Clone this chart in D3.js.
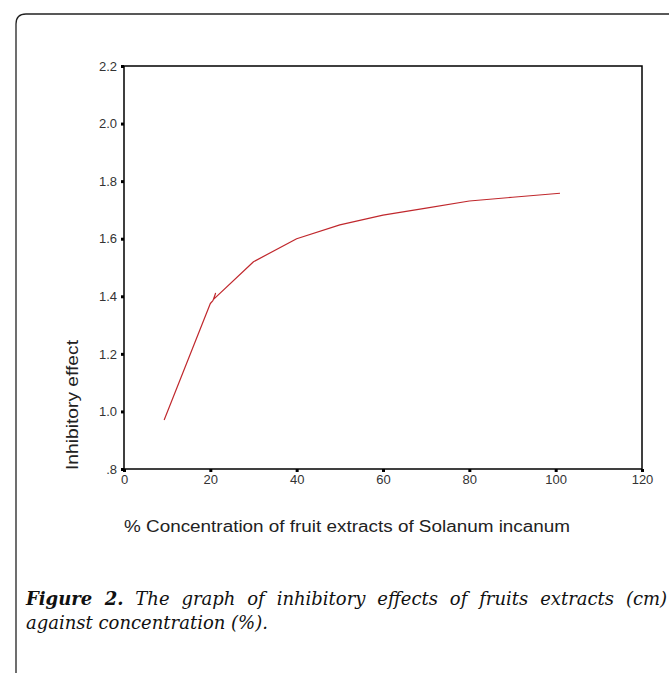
<!DOCTYPE html>
<html><head><meta charset="utf-8">
<script src="https://cdn.jsdelivr.net/npm/d3@7"></script>
<style>body{margin:0;background:#fff}svg{display:block}</style>
</head><body>
<script>
const concentration = [9.3, 20, 20.6, 21.2, 20.8, 30, 40, 50, 60, 70, 80, 90, 101];
const inhibitory = [0.97, 1.375, 1.385, 1.41, 1.39, 1.52, 1.60, 1.648, 1.682, 1.706, 1.731, 1.744, 1.758];
const xTicks = [0, 20, 40, 60, 80, 100, 120];
const yTicks = [0.8, 1.0, 1.2, 1.4, 1.6, 1.8, 2.0, 2.2];
const yTickLabels = [".8", "1.0", "1.2", "1.4", "1.6", "1.8", "2.0", "2.2"];

const W = 669, H = 673;
const svg = d3.select("body").append("svg").attr("width", W).attr("height", H);

svg.append("path")
  .attr("d", "M16,700 L16,24 Q16,14 26,14 L700,14")
  .attr("fill", "none").attr("stroke", "#222").attr("stroke-width", 1.3);

const x = d3.scaleLinear().domain([0, 120]).range([124, 642]);
const y = d3.scaleLinear().domain([0.8, 2.2]).range([469, 66]);

svg.append("rect").attr("x", x(0)).attr("y", y(2.2))
  .attr("width", x(120) - x(0)).attr("height", y(0.8) - y(2.2))
  .attr("fill", "none").attr("stroke", "#000").attr("stroke-width", 1.5);

const sans = "Liberation Sans, Arial, sans-serif";
const yAxis = d3.axisLeft(y).tickValues(yTicks).tickSize(3).tickPadding(4)
  .tickFormat((d, i) => yTickLabels[i]);
const gy = svg.append("g").attr("transform", `translate(${x(0)},0)`).call(yAxis);
gy.select(".domain").remove();
gy.selectAll(".tick line").attr("stroke", "#000").attr("stroke-width", 3);
gy.selectAll(".tick text").attr("font-family", sans)
  .attr("font-size", 13).attr("fill", "#333");

const xAxis = d3.axisBottom(x).tickValues(xTicks).tickSize(3).tickPadding(3);
const gx = svg.append("g").attr("transform", `translate(0,${y(0.8)})`).call(xAxis);
gx.select(".domain").remove();
gx.selectAll(".tick line").attr("stroke", "#000").attr("stroke-width", 3);
gx.selectAll(".tick text").attr("font-family", sans)
  .attr("font-size", 13).attr("fill", "#333");

const line = d3.line().x((d, i) => x(concentration[i])).y((d, i) => y(inhibitory[i]));
svg.append("path").datum(inhibitory).attr("d", line)
  .attr("fill", "none").attr("stroke", "#c0282d").attr("stroke-width", 1.2)
  .attr("stroke-linejoin", "round");

svg.append("text").attr("transform", `translate(78,405) rotate(-90)`)
  .attr("text-anchor", "middle").attr("font-family", sans)
  .attr("font-size", 16).attr("fill", "#222")
  .attr("textLength", 130).attr("lengthAdjust", "spacingAndGlyphs")
  .text("Inhibitory effect");

svg.append("text").attr("x", 124).attr("y", 532)
  .attr("font-family", sans)
  .attr("font-size", 16).attr("fill", "#222")
  .attr("textLength", 446).attr("lengthAdjust", "spacingAndGlyphs")
  .text("% Concentration of fruit extracts of Solanum incanum");

const serif = "DejaVu Serif, serif";
const cap1 = svg.append("text").attr("x", 26).attr("y", 605)
  .attr("font-family", serif)
  .attr("font-size", 18).attr("font-style", "italic").attr("fill", "#111");
cap1.append("tspan").attr("font-weight", "bold").text("Figure 2.");
cap1.append("tspan").text(" The graph of inhibitory effects of fruits extracts (cm)");
const target = 661 - 26;
const natural = cap1.node().getComputedTextLength();
if (natural > target) {
  cap1.attr("textLength", target).attr("lengthAdjust", "spacingAndGlyphs");
} else {
  cap1.attr("word-spacing", (target - natural) / 9);
}
svg.append("text").attr("x", 26).attr("y", 629)
  .attr("font-family", serif)
  .attr("font-size", 18).attr("font-style", "italic").attr("fill", "#111")
  .text("against concentration (%).");
</script>
</body></html>
